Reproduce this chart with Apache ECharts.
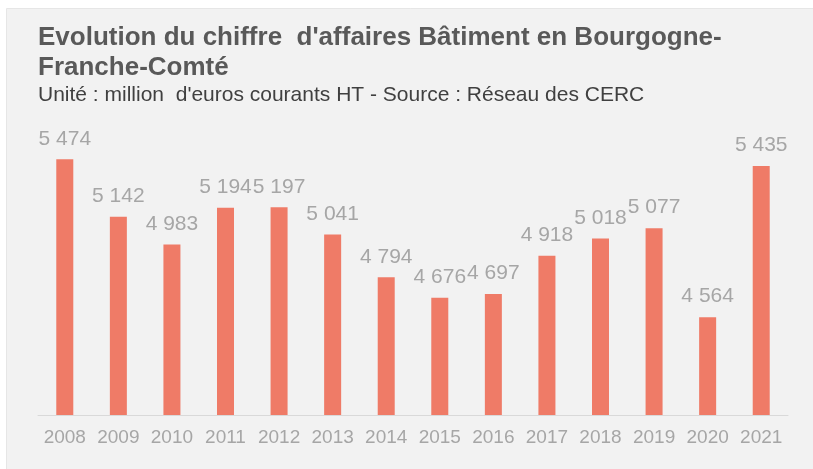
<!DOCTYPE html>
<html>
<head>
<meta charset="utf-8">
<script src="https://cdn.jsdelivr.net/npm/echarts@6/dist/echarts.min.js"></script>
<style>
html, body { margin: 0; padding: 0; background: #ffffff; }
#chart { width: 813px; height: 469px; }
</style>
</head>
<body>
<div id="chart"></div>
<script>
var years = ['2008', '2009', '2010', '2011', '2012', '2013', '2014', '2015', '2016', '2017', '2018', '2019', '2020', '2021'];
var turnover = [5474, 5142, 4983, 5194, 5197, 5041, 4794, 4676, 4697, 4918, 5018, 5077, 4564, 5435];

var myChart = echarts.init(document.getElementById('chart'));

function frNumber(v) {
    return String(v).replace(/\B(?=(\d{3})+(?!\d))/g, ' ');
}

var option = {
    backgroundColor: '#ffffff',
    graphic: [
        {
            type: 'rect',
            z: -10,
            shape: { x: 6.5, y: 8.5, width: 810, height: 470 },
            style: { fill: '#f2f2f2', stroke: '#e6e6e6', lineWidth: 1 }
        }
    ],
    title: {
        text: "Evolution du chiffre  d'affaires Bâtiment en Bourgogne-\nFranche-Comté",
        subtext: "Unité : million  d'euros courants HT - Source : Réseau des CERC",
        left: 33,
        top: 18,
        itemGap: 2,
        textStyle: {
            fontFamily: 'Liberation Sans',
            fontSize: 26,
            fontWeight: 'bold',
            color: '#595959',
            lineHeight: 30
        },
        subtextStyle: {
            fontFamily: 'Liberation Sans',
            fontSize: 21,
            color: '#404040'
        }
    },
    grid: {
        left: 38,
        right: 25,
        top: 68,
        bottom: 54
    },
    xAxis: {
        type: 'category',
        data: years,
        axisLine: { lineStyle: { color: '#d9d9d9', width: 1 } },
        axisTick: { show: false },
        axisLabel: {
            interval: 0,
            margin: 13,
            fontFamily: 'Liberation Sans',
            fontSize: 19,
            color: '#a6a6a6'
        }
    },
    yAxis: {
        type: 'value',
        min: 4000,
        max: 6000,
        show: false,
        splitLine: { show: false }
    },
    series: [
        {
            type: 'bar',
            data: turnover,
            barWidth: 17,
            itemStyle: { color: '#ef7b67' },
            label: {
                show: true,
                position: 'top',
                distance: 10,
                fontFamily: 'Liberation Sans',
                fontSize: 21,
                color: '#a6a6a6',
                formatter: function (p) { return frNumber(p.value); }
            }
        }
    ]
};

myChart.setOption(option);
</script>
</body>
</html>
